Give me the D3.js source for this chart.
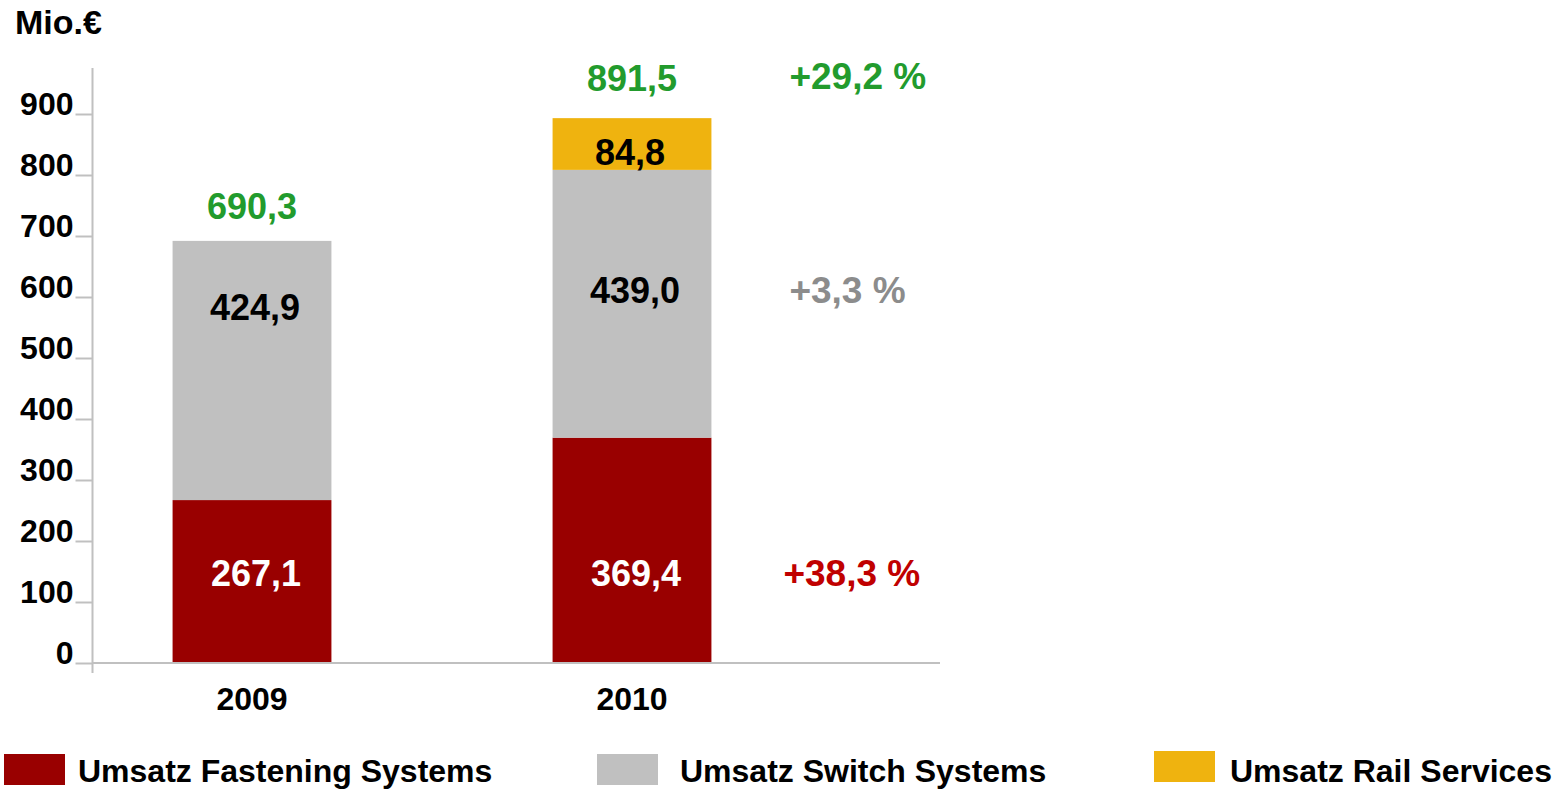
<!DOCTYPE html>
<html>
<head>
<meta charset="utf-8">
<script src="https://cdn.jsdelivr.net/npm/d3@7"></script>
<style>
  body { margin: 0; background: #fff; }
  text { font-family: "Liberation Sans", Arial, sans-serif; font-weight: bold; }
</style>
</head>
<body>
<div id="chart"></div>
<script>
// Data
var years = ['2009', '2010']
var fastening = [267.1, 369.4]
var switchSys = [424.9, 439.0]
var railServices = [0, 84.8]
var totals = [690.3, 891.5]
var growth = ['+38,3 %', '+3,3 %', '+29,2 %']
var yTicks = [0, 100, 200, 300, 400, 500, 600, 700, 800, 900]
var seriesNames = ['Umsatz Fastening Systems', 'Umsatz Switch Systems', 'Umsatz Rail Services']

var colors = ['#990000', '#c0c0c0', '#efb30f']
var green = '#229b2d'

var svgWidth = 1555
var svgHeight = 790

var svg = d3.select('#chart')
      .append('svg')
      .attr('width', svgWidth)
      .attr('height', svgHeight)

var fmt = v => d3.format('.1f')(v).replace('.', ',')

// Scales
var x = d3.scaleBand()
      .domain(years)
      .range([62, 822])
      .paddingInner(0.582)
      .paddingOuter(0.291)

var y = d3.scaleLinear()
      .domain([0, 900])
      .range([663, 114])

// Stack the three series
var rows = years.map((yr, i) => ({
      year: yr,
      fastening: fastening[i],
      switchSys: switchSys[i],
      rail: railServices[i]
}))
var keys = ['fastening', 'switchSys', 'rail']
var stacked = d3.stack().keys(keys)(rows)

svg.append('g')
      .selectAll('g')
      .data(stacked)
      .enter()
      .append('g')
      .attr('fill', (d, i) => colors[i])
      .selectAll('rect')
      .data(d => d)
      .enter()
      .append('rect')
      .attr('x', d => x(d.data.year))
      .attr('y', d => y(d[1]))
      .attr('width', x.bandwidth())
      .attr('height', d => y(d[0]) - y(d[1]))

// Axes
var axisX = 92.5
var yAxis = d3.axisLeft(y)
      .tickValues(yTicks)
      .tickSize(17)
      .tickPadding(2)
      .tickFormat(d3.format('d'))

var yAxisG = svg.append('g')
      .attr('transform', `translate(${axisX}, 0)`)
      .call(yAxis)

yAxisG.select('.domain').remove()
yAxisG.selectAll('.tick line')
      .attr('stroke', '#c0c0c0')
      .attr('stroke-width', 2)
yAxisG.selectAll('.tick text')
      .attr('dy', '0.0em')
      .attr('fill', '#000')
      .style('font-size', '32px')
      .style('font-family', '"Liberation Sans", Arial, sans-serif')
      .style('font-weight', 'bold')

// vertical axis line runs above the top tick and a bit below zero
svg.append('line')
      .attr('x1', axisX).attr('x2', axisX)
      .attr('y1', y(900) - 46).attr('y2', y(0) + 10)
      .attr('stroke', '#c0c0c0')
      .attr('stroke-width', 2)

// baseline
svg.append('line')
      .attr('x1', axisX).attr('x2', 940)
      .attr('y1', y(0)).attr('y2', y(0))
      .attr('stroke', '#c0c0c0')
      .attr('stroke-width', 2)

// unit label
svg.append('text')
      .attr('x', 15)
      .attr('y', 34)
      .style('font-size', '34px')
      .text('Mio.€')

// category labels
svg.append('g')
      .selectAll('text')
      .data(years)
      .enter()
      .append('text')
      .attr('x', d => x(d) + x.bandwidth() / 2)
      .attr('y', y(0) + 47)
      .attr('text-anchor', 'middle')
      .style('font-size', '32px')
      .text(d => d)

// value labels: levels (in data units) where the reference prints them
var redLevel = [148, 148]
var greyLevel = [584, 612]
var railLevel = [838, 838]
var valueFont = '36px'
var growthFont = '37px'

function label(cx, cy, txt, fill) {
      svg.append('text')
            .attr('x', cx)
            .attr('y', cy)
            .attr('dy', '0.36em')
            .attr('text-anchor', 'middle')
            .attr('fill', fill)
            .style('font-size', valueFont)
            .text(txt)
}

years.forEach((yr, i) => {
      var cx = x(yr) + x.bandwidth() / 2
      label(cx + 4, y(redLevel[i]), fmt(fastening[i]), '#fff')
      label(cx + 3, y(greyLevel[i]), fmt(switchSys[i]), '#000')
      if (railServices[i] > 0) label(cx - 2, y(railLevel[i]), fmt(railServices[i]), '#000')
      label(cx, y(totals[i] + (i === 0 ? 58 : 68)), fmt(totals[i]), green)
})

// growth rates beside the 2010 bar
var growthColors = ['#c00000', '#8c8c8c', green]
var growthLevels = [redLevel[1], greyLevel[1], totals[1] + 72]
growth.forEach((g, i) => {
      svg.append('text')
            .attr('x', x('2010') + x.bandwidth() + (i === 0 ? 72 : 78))
            .attr('y', y(growthLevels[i]))
            .attr('dy', '0.36em')
            .attr('fill', growthColors[i])
            .style('font-size', growthFont)
            .text(g)
})

// legend
var legendX = [4, 597, 1154]
var legend = svg.append('g')
      .selectAll('g')
      .data(seriesNames)
      .enter()
      .append('g')
      .attr('transform', (d, i) => `translate(${legendX[i]}, ${i === 2 ? 751 : 754})`)

legend.append('rect')
      .attr('width', 61)
      .attr('height', 31)
      .attr('fill', (d, i) => colors[i])

legend.append('text')
      .attr('x', (d, i) => i === 1 ? 83 : (i === 0 ? 74 : 76))
      .attr('y', (d, i) => i === 2 ? 31 : 28)
      .style('font-size', '32px')
      .text(d => d)
</script>
</body>
</html>
